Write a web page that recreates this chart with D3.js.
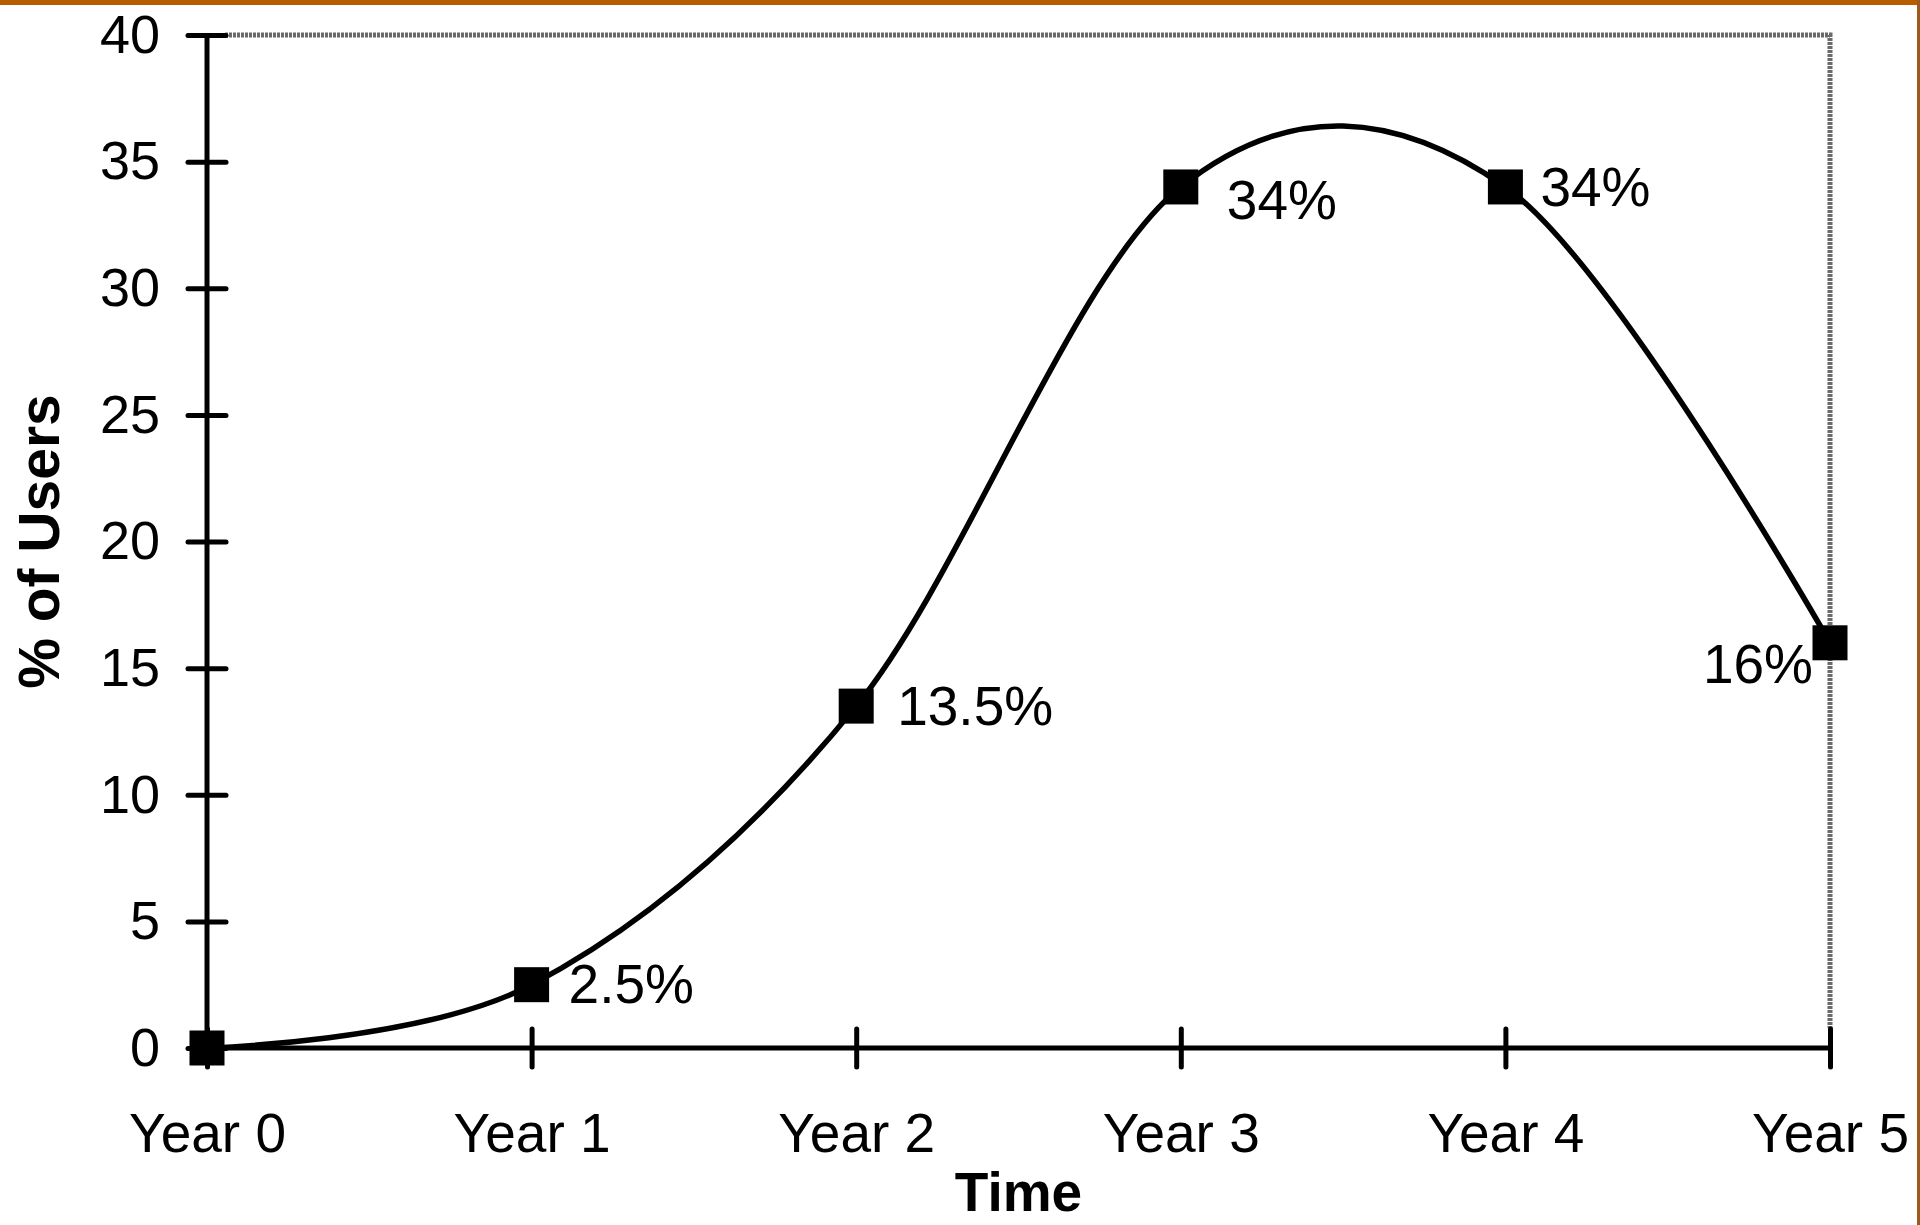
<!DOCTYPE html>
<html>
<head>
<meta charset="utf-8">
<script src="https://cdn.jsdelivr.net/npm/d3@7"></script>
<style>
  html, body { margin: 0; padding: 0; background: #fff; }
  svg { display: block; }
  text { font-family: "Liberation Sans", Arial, sans-serif; fill: #000; }
</style>
</head>
<body>
<svg id="chart" width="1920" height="1225"></svg>
<script>
// ---- data ----
const categories = ["Year 0", "Year 1", "Year 2", "Year 3", "Year 4", "Year 5"];
const usersPct   = [0, 2.5, 13.5, 34, 34, 16];
const pointLabels = ["", "2.5%", "13.5%", "34%", "34%", "16%"];
const yTicks     = [0, 5, 10, 15, 20, 25, 30, 35, 40];
const xTitle = "Time";
const yTitle = "% of Users";

// ---- layout ----
const W = 1920, H = 1225;
const svg = d3.select("#chart");
const plot = { left: 207, right: 1830, top: 35, bottom: 1048 };

const x = d3.scaleLinear().domain([0, categories.length - 1]).range([plot.left, plot.right]);
const y = d3.scaleLinear().domain([0, 40]).range([plot.bottom, plot.top]);

// frame decorations (top orange bar, right edge)
svg.append("rect").attr("x", 0).attr("y", 0).attr("width", W).attr("height", 5).attr("fill", "#b85c00");
svg.append("rect").attr("x", 1917).attr("y", 0).attr("width", 3).attr("height", H).attr("fill", "#9c5a1e");

// dithered top/right border of plot area
svg.append("path")
  .attr("d", `M${plot.left + 18},${y(40)} H${x(5)} V${plot.bottom - 20}`)
  .attr("fill", "none")
  .attr("stroke", "#6a6a6a")
  .attr("stroke-width", 5)
  .attr("stroke-dasharray", "3,1");

// y axis
const yAxis = d3.axisLeft(y).tickValues(yTicks).tickSize(19).tickPadding(28).tickFormat(d3.format("d"));
const gy = svg.append("g").attr("transform", `translate(${plot.left},0)`).call(yAxis);
gy.select(".domain").remove();
gy.selectAll(".tick line").attr("x1", -19).attr("x2", 19).attr("stroke", "#000").attr("stroke-width", 5).attr("stroke-linecap", "round");
gy.selectAll(".tick text").attr("font-size", 54).attr("font-family", "Liberation Sans, Arial, sans-serif").attr("fill", "#000");
svg.append("line")
  .attr("x1", plot.left).attr("x2", plot.left)
  .attr("y1", y(40)).attr("y2", y(0))
  .attr("stroke", "#000").attr("stroke-width", 5);

// x axis
const xAxis = d3.axisBottom(x).tickValues(d3.range(categories.length)).tickFormat(i => categories[i]).tickSize(19);
const gx = svg.append("g").attr("transform", `translate(0,${plot.bottom})`).call(xAxis);
gx.select(".domain").remove();
gx.selectAll(".tick line").attr("y1", -19).attr("y2", 19).attr("stroke", "#000").attr("stroke-width", 5).attr("stroke-linecap", "round");
gx.selectAll(".tick text").attr("font-size", 55).attr("font-family", "Liberation Sans, Arial, sans-serif")
  .attr("fill", "#000").attr("y", 104).attr("dy", 0);
svg.append("line")
  .attr("x1", plot.left).attr("x2", x(5))
  .attr("y1", y(0)).attr("y2", y(0))
  .attr("stroke", "#000").attr("stroke-width", 5);

// axis titles
svg.append("text")
  .attr("x", (plot.left + plot.right) / 2).attr("y", 1211)
  .attr("text-anchor", "middle").attr("font-size", 55).attr("font-weight", "bold")
  .text(xTitle);
svg.append("text")
  .attr("transform", `translate(59,${(plot.top + plot.bottom) / 2}) rotate(-90)`)
  .attr("text-anchor", "middle").attr("font-size", 57).attr("font-weight", "bold")
  .text(yTitle);

// smoothed line
const line = d3.line()
  .x((d, i) => x(i))
  .y(d => y(d))
  .curve(d3.curveCatmullRom.alpha(0));
svg.append("path")
  .datum(usersPct)
  .attr("d", line)
  .attr("fill", "none")
  .attr("stroke", "#000")
  .attr("stroke-width", 5.5);

// square markers
const ms = 35;
svg.selectAll("rect.marker")
  .data(usersPct)
  .join("rect")
  .attr("class", "marker")
  .attr("x", (d, i) => x(i) - ms / 2)
  .attr("y", d => y(d) - ms / 2)
  .attr("width", ms).attr("height", ms)
  .attr("fill", "#000");

// point labels (placement rules)
const placement = [null, {dx: 37, dy: 18, a: "start"}, {dx: 41, dy: 19, a: "start"},
                   {dx: 46, dy: 32, a: "start"}, {dx: 35, dy: 19, a: "start"}, {dx: -17, dy: 40, a: "end"}];
svg.selectAll("text.plabel")
  .data(usersPct.map((v, i) => ({v, i, t: pointLabels[i], p: placement[i]})).filter(d => d.p && d.t))
  .join("text")
  .attr("class", "plabel")
  .attr("x", d => x(d.i) + d.p.dx)
  .attr("y", d => y(d.v) + d.p.dy)
  .attr("text-anchor", d => d.p.a)
  .attr("font-size", 55)
  .text(d => d.t);
</script>
</body>
</html>
